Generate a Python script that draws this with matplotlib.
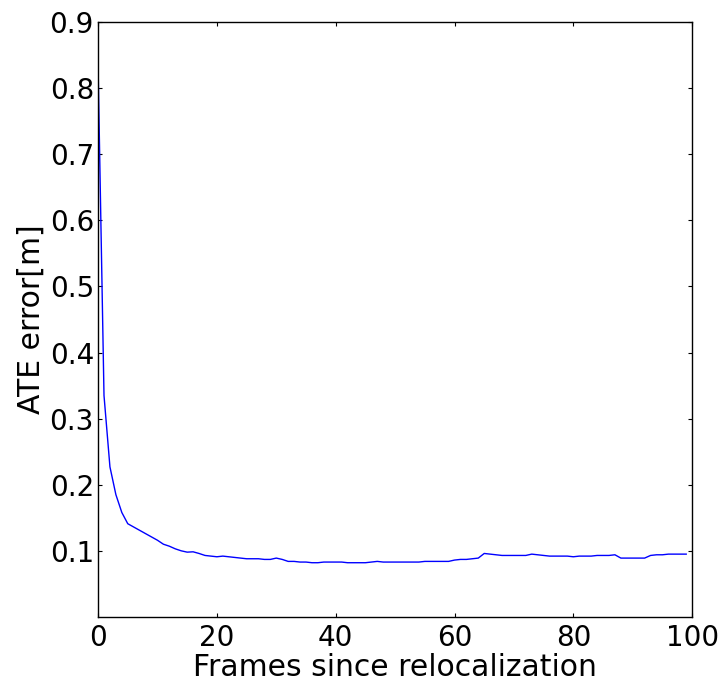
import matplotlib
matplotlib.use("Agg")
import matplotlib.pyplot as plt
import numpy as np

# ATE error per frame after relocalization (frames 0..99)
frames = np.arange(100)
ate_error = [
    0.835, 0.335, 0.227, 0.185, 0.158, 0.141, 0.136, 0.131, 0.126, 0.121,
    0.116, 0.110, 0.107, 0.103, 0.100, 0.098, 0.0985, 0.096, 0.093, 0.092,
    0.091, 0.092, 0.091, 0.090, 0.089, 0.088, 0.088, 0.088, 0.087, 0.087,
    0.089, 0.087, 0.084, 0.084, 0.083, 0.083, 0.082, 0.082, 0.083, 0.083,
    0.083, 0.083, 0.082, 0.082, 0.082, 0.082, 0.083, 0.084, 0.083, 0.083,
    0.083, 0.083, 0.083, 0.083, 0.083, 0.084, 0.084, 0.084, 0.084, 0.084,
    0.086, 0.087, 0.087, 0.088, 0.089, 0.096, 0.095, 0.094, 0.093, 0.093,
    0.093, 0.093, 0.093, 0.095, 0.094, 0.093, 0.092, 0.092, 0.092, 0.092,
    0.091, 0.092, 0.092, 0.092, 0.093, 0.093, 0.093, 0.094, 0.089, 0.089,
    0.089, 0.089, 0.089, 0.093, 0.094, 0.094, 0.095, 0.095, 0.095, 0.095,
]
x_ticks = [0, 20, 40, 60, 80, 100]
y_ticks = [0.1, 0.2, 0.3, 0.4, 0.5, 0.6, 0.7, 0.8, 0.9]

plt.rcParams["font.family"] = ["DejaVu Sans"]

fig = plt.figure(figsize=(7.21, 6.87), dpi=100)
ax = fig.add_axes([0.136, 0.102, 0.824, 0.866])

ax.plot(frames, ate_error, color=(0, 0, 1), linewidth=1.0)

ax.set_xlim(0, 100)
ax.set_ylim(0, 0.9)
ax.set_xticks(x_ticks)
ax.set_yticks(y_ticks)
ax.set_xticklabels([str(t) for t in x_ticks])
ax.set_yticklabels([f"{t:.1f}" for t in y_ticks])

ax.tick_params(direction="in", length=3, width=0.8, labelsize=20,
               top=True, right=True)
ax.tick_params(axis="y", pad=3)
ax.tick_params(axis="x", pad=5)
for s in ax.spines.values():
    s.set_linewidth(1.0)
    s.set_color("black")

ax.set_xlabel("Frames since relocalization", fontsize=21.5, labelpad=1)
ax.set_ylabel("ATE error[m]", fontsize=21.5, labelpad=3)

fig.savefig("out.png", dpi=100)
